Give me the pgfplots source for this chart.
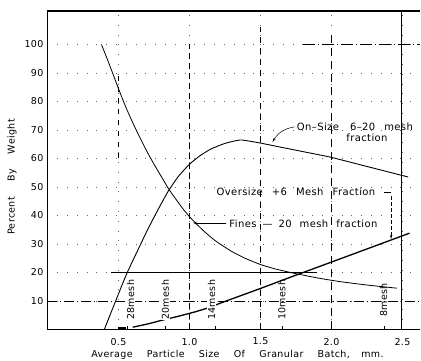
\documentclass[border=0pt]{standalone}
\usepackage{fontspec}
\setmainfont{DejaVu Sans}
\newfontfamily\lt[LetterSpace=4]{DejaVu Sans}
\usepackage{pgfplots}
\pgfplotsset{compat=1.18}
\usetikzlibrary{arrows.meta}

\pgfplotstableread{
x y
0.38 100
0.42 95
0.46 89.8
0.50 84.5
0.55 78.2
0.60 72.6
0.65 67.4
0.70 62.5
0.75 58
0.80 53.8
0.85 49.6
0.90 46
0.95 42.6
1.00 39.6
1.05 37
1.10 34.6
1.15 32.4
1.20 30.5
1.30 27.3
1.40 24.8
1.50 22.8
1.60 21.3
1.73 19.8
1.90 18.1
2.06 16.8
2.25 15.6
2.46 14.5
}\fines

\pgfplotstableread{
x y
0.40 0
0.48 10
0.56 19.8
0.70 34.5
0.78 42.2
0.85 48.5
0.92 53.6
1.00 58
1.075 61
1.15 63.3
1.25 65.3
1.36 66.5
1.49 65.5
1.62 64.2
1.80 62.4
1.99 60.5
2.25 57.2
2.54 53.5
}\onsize

\pgfplotstableread{
x y
0.60 0.8
0.71 2.0
0.81 3.3
0.91 4.5
1.04 6.2
1.145 7.8
1.22 9.3
1.50 14.4
1.73 18.7
2.10 25.5
2.55 33.8
}\oversize

\begin{document}
\begin{tikzpicture}
\useasboundingbox (-47.5pt,-31.5pt) rectangle (373.5pt,329.5pt);
\begin{axis}[
  scale only axis, width=372pt, height=318.5pt,
  at={(0pt,0pt)}, anchor=south west,
  xmin=0, xmax=2.62, ymin=0, ymax=111.75,
  axis line style={draw=none},
  xtick={0.5,1.0,1.5,2.0,2.5},
  xticklabels={0.5,1.0,1.5,2.0,2.5},
  ytick={10,20,30,40,50,60,70,80,90,100},
  major tick length=0pt,
  tick label style={font=\lt\fontsize{9.5}{10}\selectfont},
  /pgf/number format/assume math mode=true,
  xticklabel style={yshift=-5pt},
  yticklabel style={xshift=-0.5pt},
  grid=major,
  major grid style={black!60, line width=0.4pt, dash pattern=on 0.8pt off 9pt},
  clip=false,
]
% frame
\draw[line width=1.0pt] (axis cs:0,111.75) -- (axis cs:0,0) -- (axis cs:2.62,0);
\draw[line width=1.5pt] (axis cs:0,111.75) -- (axis cs:2.62,111.75);
% partial grid lines
\draw[line width=0.6pt] (axis cs:2.495,0) -- (axis cs:2.495,111.75);
\draw[line width=0.5pt, dash pattern=on 10pt off 3pt on 1pt off 3pt] (axis cs:0,10) -- (axis cs:2.62,10);
\draw[line width=0.5pt] (axis cs:0.45,20) -- (axis cs:1.9,20);
\draw[line width=0.5pt, dash pattern=on 12pt off 3pt on 1pt off 3pt] (axis cs:1.8,100) -- (axis cs:2.62,100);
\draw[line width=0.4pt, dash pattern=on 6pt off 4pt] (axis cs:1.0,0) -- (axis cs:1.0,100);
\draw[line width=0.4pt, dash pattern=on 6pt off 5pt] (axis cs:1.5,0) -- (axis cs:1.5,106);
\draw[line width=0.4pt, dash pattern=on 8pt off 5pt] (axis cs:2.0,0) -- (axis cs:2.0,104);
\draw[line width=0.4pt, dash pattern=on 5pt off 6pt] (axis cs:0.5,60) -- (axis cs:0.5,90);
% mesh ticks
\draw[line width=0.5pt] (axis cs:0.56,0) -- (axis cs:0.56,1.2);
\draw[line width=0.5pt] (axis cs:0.83,0) -- (axis cs:0.83,1.2);
\draw[line width=0.5pt] (axis cs:1.18,0) -- (axis cs:1.18,1.2);
\draw[line width=0.5pt] (axis cs:1.65,0) -- (axis cs:1.65,1.2);
\draw[line width=0.5pt] (axis cs:2.37,0) -- (axis cs:2.37,1.2);

% curves
\addplot[black, line width=0.8pt, smooth, tension=0.3] table[x=x,y=y] {\fines};
\addplot[black, line width=0.9pt, smooth, tension=0.3] table[x=x,y=y] {\onsize};
\addplot[black, line width=1.3pt, smooth, tension=0.3] table[x=x,y=y] {\oversize};
\addplot[black, line width=2.2pt] coordinates {(0.50,0.4) (0.55,0.4)};

% mesh labels
\begin{scope}[every node/.style={rotate=90, font=\lt\fontsize{9.5}{10}\selectfont, inner sep=0.6pt}]
\node[fill=white] at (axis cs:0.585,10.4) {28mesh};
\node[fill=white] at (axis cs:0.83,10.4) {20mesh};
\node[fill=white] at (axis cs:1.155,10.4) {14mesh};
\node at (axis cs:1.65,10.4) {10mesh};
\node at (axis cs:2.367,10.4) {8mesh};
\end{scope}

% annotations
\begin{scope}[every node/.style={font=\lt\fontsize{10}{11}\selectfont, inner sep=0pt}]
\node[anchor=west] at (axis cs:1.755,71.1) {On\textendash Size\hspace{1.1em}6\textendash 20\hspace{0.9em}mesh};
\node at (axis cs:2.25,67.3) {fraction};
\draw[line width=0.5pt, -{Stealth[length=4pt,width=2.5pt]}] (axis cs:1.74,71.1) to[bend right=25] (axis cs:1.585,65.8);

\node[anchor=west] at (axis cs:1.19,48.2) {Oversize\hspace{0.9em}+6\hspace{0.9em}Mesh\hspace{0.9em}Fraction};
\draw[line width=0.5pt] (axis cs:2.37,48.2) -- (axis cs:2.42,48.2);
\draw[line width=0.5pt, dash pattern=on 4pt off 2pt, -{Stealth[length=4pt,width=2.5pt]}] (axis cs:2.42,47) -- (axis cs:2.42,31.8);

\node[anchor=west] at (axis cs:1.28,37.2) {Fines\hspace{0.6em}\textemdash\hspace{0.6em}20\hspace{0.8em}mesh\hspace{0.8em}fraction};
\draw[line width=0.5pt, -{Stealth[length=4pt,width=2.5pt]}] (axis cs:1.26,37.4) -- (axis cs:1.025,37.4);

\node[font=\lt\fontsize{9.5}{10}\selectfont] at ([yshift=-25.5pt]axis cs:1.338,0) {Average\hspace{1.5em}Particle\hspace{1.5em}Size\hspace{1.5em}Of\hspace{1.5em}Granular\hspace{1.5em}Batch,\hspace{1.2em}mm.};
\node[rotate=90, font=\lt\fontsize{9.5}{10}\selectfont] at ([xshift=-35.5pt]axis cs:0,53.5) {Percent\hspace{1.6em}By\hspace{1.6em}Weight};
\end{scope}
\end{axis}
\end{tikzpicture}
\end{document}
